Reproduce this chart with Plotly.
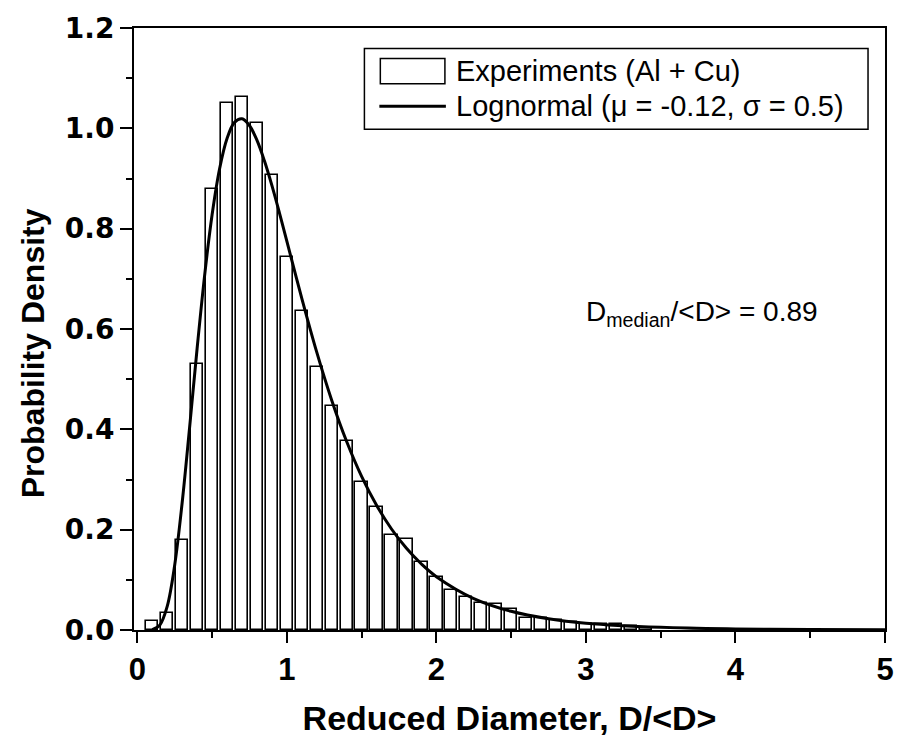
import plotly.graph_objects as go

# Histogram bins (centre of bin, probability density)
bin_centers = [0.1, 0.2, 0.3, 0.4, 0.5, 0.6, 0.7, 0.8, 0.9, 1.0,
               1.1, 1.2, 1.3, 1.4, 1.5, 1.6, 1.7, 1.8, 1.9, 2.0,
               2.1, 2.2, 2.3, 2.4, 2.5, 2.6, 2.7, 2.8, 2.9, 3.0,
               3.1, 3.2, 3.3, 3.4]
bin_density = [0.018, 0.034, 0.180, 0.531, 0.880, 1.050, 1.062, 1.010, 0.907, 0.743,
               0.635, 0.524, 0.447, 0.376, 0.296, 0.246, 0.189, 0.181, 0.136, 0.105,
               0.080, 0.065, 0.053, 0.051, 0.041, 0.023, 0.024, 0.020, 0.016, 0.012,
               0.011, 0.012, 0.007, 0.004]

# Lognormal fit curve (mu = -0.12, sigma = 0.5), sampled values
curve_x = [0.1, 0.15, 0.2, 0.25, 0.3, 0.35, 0.4, 0.45, 0.5, 0.55, 0.6, 0.65, 0.7,
           0.75, 0.8, 0.85, 0.9, 0.95, 1.0, 1.1, 1.2, 1.3, 1.4, 1.5, 1.6, 1.7, 1.8,
           1.9, 2.0, 2.25, 2.5, 2.75, 3.0, 3.5, 4.0, 4.5, 5.0]
curve_y = [0.0006, 0.0096, 0.0472, 0.1292, 0.2536, 0.4046, 0.5611, 0.7060, 0.8272,
           0.9189, 0.9797, 1.0118, 1.0190, 1.0057, 0.9764, 0.9353, 0.8862, 0.8320,
           0.7752, 0.6611, 0.5538, 0.4581, 0.3757, 0.3062, 0.2486, 0.2013, 0.1628,
           0.1315, 0.1063, 0.0627, 0.0373, 0.0224, 0.0136, 0.0053, 0.0021, 0.0009,
           0.0004]

legend_labels = ["Experiments (Al + Cu)", "Lognormal (\u03bc = -0.12, \u03c3 = 0.5)"]
note_text = "D<sub>median</sub>/&lt;D&gt; = 0.89"
x_title = "Reduced Diameter, D/&lt;D&gt;"
y_title = "Probability Density"

FONT = "Liberation Sans, Arial, sans-serif"
WIDE = "DejaVu Sans, Liberation Sans, sans-serif"

fig = go.Figure()
fig.add_trace(go.Bar(
    x=bin_centers, y=bin_density, width=0.082,
    marker=dict(color="white", line=dict(color="black", width=1.6)),
    name=legend_labels[0], showlegend=False,
))
fig.add_trace(go.Scatter(
    x=curve_x, y=curve_y, mode="lines",
    line=dict(color="black", width=3, shape="spline"),
    name=legend_labels[1], showlegend=False,
))

axis_common = dict(
    showline=True, linewidth=2, linecolor="black", mirror=True,
    ticks="outside", tickwidth=2, tickcolor="black",
    showgrid=False, zeroline=False,
)

fig.update_xaxes(range=[-0.022, 5.0], dtick=1, tick0=0, ticklen=11,
                 tickfont=dict(family=FONT, size=31, color="black", weight="bold"),
                 minor=dict(dtick=0.5, ticklen=6, tickwidth=2, ticks="outside",
                            tickcolor="black"),
                 title=dict(text=x_title, standoff=20,
                            font=dict(family=FONT, size=34, color="black", weight="bold")),
                 **axis_common)
fig.update_yaxes(range=[0, 1.2], dtick=0.2, tick0=0, tickformat=".1f", ticklen=12,
                 tickfont=dict(family=WIDE, size=28, color="black", weight="bold"),
                 minor=dict(dtick=0.1, ticklen=6, tickwidth=2, ticks="outside",
                            tickcolor="black"),
                 **axis_common)

# custom legend (paper coordinates)
fig.add_shape(type="rect", xref="paper", yref="paper", x0=0.3068, x1=0.9774,
              y0=0.8317, y1=0.966, line=dict(color="black", width=1.5),
              fillcolor="white", layer="above")
fig.add_shape(type="rect", xref="paper", yref="paper", x0=0.328, x1=0.414,
              y0=0.9074, y1=0.9495, line=dict(color="black", width=1.5),
              fillcolor="white", layer="above")
fig.add_shape(type="line", xref="paper", yref="paper", x0=0.3267, x1=0.4153,
              y0=0.870, y1=0.870, line=dict(color="black", width=3), layer="above")
fig.add_annotation(xref="paper", yref="paper", x=0.4263, y=0.9285, xanchor="left",
                   yanchor="middle", showarrow=False, text=legend_labels[0],
                   font=dict(family=FONT, size=29, color="black"))
fig.add_annotation(xref="paper", yref="paper", x=0.4263, y=0.870, xanchor="left",
                   yanchor="middle", showarrow=False, text=legend_labels[1],
                   font=dict(family=FONT, size=29, color="black"))

# median annotation
fig.add_annotation(xref="paper", yref="paper", x=0.599, y=0.526, xanchor="left",
                   yanchor="middle", showarrow=False, text=note_text,
                   font=dict(family=FONT, size=28, color="black"))

# y-axis title
fig.add_annotation(xref="paper", yref="paper", x=-0.135, y=0.459, xanchor="center",
                   yanchor="middle", showarrow=False, text=y_title, textangle=-90,
                   font=dict(family=FONT, size=32, color="black", weight="bold"))

fig.update_layout(
    width=906, height=743,
    margin=dict(l=134, r=19, t=26, b=109),
    paper_bgcolor="white", plot_bgcolor="white",
    bargap=0,
    showlegend=False,
)

fig.write_html("out.html")
